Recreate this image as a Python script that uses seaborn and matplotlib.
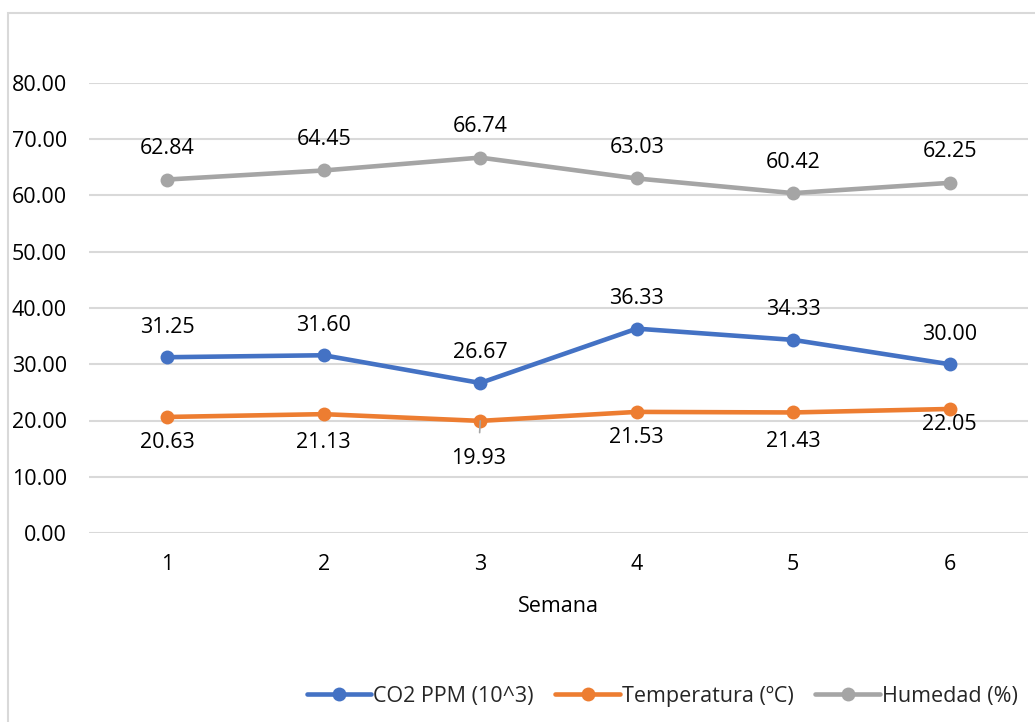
import matplotlib
matplotlib.use("Agg")
import matplotlib.pyplot as plt
import seaborn as sns
import pandas as pd
from matplotlib.lines import Line2D
from matplotlib.patches import Rectangle

# Weekly measurements
semanas = [1, 2, 3, 4, 5, 6]
co2 = [31.25, 31.60, 26.67, 36.33, 34.33, 30.00]
temperatura = [20.63, 21.13, 19.93, 21.53, 21.43, 22.05]
humedad = [62.84, 64.45, 66.74, 63.03, 60.42, 62.25]
series = ["CO2 PPM (10^3)", "Temperatura (ºC)", "Humedad (%)"]
colores = ["#4472C4", "#ED7D31", "#A5A5A5"]
y_ticks = [0, 10, 20, 30, 40, 50, 60, 70, 80]

sns.set_theme(style="white")
plt.rcParams['font.family'] = ['Open Sans', 'DejaVu Sans']
FS = 15.5

valores = {series[0]: co2, series[1]: temperatura, series[2]: humedad}
df = pd.DataFrame(
    [{"Semana": s, "Valor": v, "Serie": name}
     for name in series for s, v in zip(semanas, valores[name])]
)

W, H = 1035, 722
fig = plt.figure(figsize=(W / 100, H / 100), dpi=100)
ax = fig.add_axes([89 / W, 189 / H, 939 / W, 450 / H])

# Chart-area border
fig.patches.append(Rectangle((8 / W, -0.01), 1.1, (H - 13) / H + 0.01,
                             transform=fig.transFigure, fill=False,
                             edgecolor="#D9D9D9", linewidth=1.5))

sns.lineplot(data=df, x="Semana", y="Valor", hue="Serie", hue_order=series,
             palette=colores, marker="o", markersize=10, markeredgewidth=0,
             linewidth=3.3, legend=False, ax=ax, zorder=3)

ax.set_xlim(0.5, 6.5)
ax.set_ylim(0, 80)
ax.set_yticks(y_ticks)
ax.set_yticklabels([f"{t:.2f}" for t in y_ticks], fontsize=FS, color="#000000")
ax.set_xticks(semanas)
ax.set_xticklabels([str(s) for s in semanas], fontsize=FS, color="#000000")
ax.tick_params(axis="y", length=0, pad=16)
ax.tick_params(axis="x", length=0, pad=15)
ax.yaxis.grid(True, color="#D9D9D9", linewidth=1.5)
ax.set_axisbelow(True)
for sp in ax.spines.values():
    sp.set_visible(False)
ax.set_xlabel("Semana", fontsize=FS, color="#000000", labelpad=15)
ax.set_ylabel("")

px = 0.72  # pixels -> points

# Value labels
for s, v in zip(semanas, humedad):
    ax.annotate(f"{v:.2f}", (s, v), xytext=(0, 31 * px), textcoords="offset points",
                ha="center", va="center", fontsize=FS, color="#000000")
for s, v in zip(semanas, co2):
    ax.annotate(f"{v:.2f}", (s, v), xytext=(0, 30 * px), textcoords="offset points",
                ha="center", va="center", fontsize=FS, color="#000000")
temp_off = [26, 28, 38, 26, 29, 16]
for i, (s, v) in enumerate(zip(semanas, temperatura)):
    if i == 2:
        ax.annotate(f"{v:.2f}", (s, v), xytext=(-2 * px, -temp_off[i] * px),
                    textcoords="offset points", ha="center", va="center",
                    fontsize=FS, color="#000000",
                    arrowprops=dict(arrowstyle="-", color="#A5A5A5", lw=1.2,
                                    shrinkA=9, shrinkB=0), zorder=4)
    else:
        ax.annotate(f"{v:.2f}", (s, v), xytext=(0, -temp_off[i] * px),
                    textcoords="offset points", ha="center", va="center",
                    fontsize=FS, color="#000000")

handles = [Line2D([], [], color=c, linewidth=3.3, marker="o", markersize=10,
                  markeredgewidth=0) for c in colores]
fig.legend(handles, series, loc="center right", bbox_to_anchor=(1018 / W, 1 - 696 / H),
           ncol=3, frameon=False, fontsize=FS, handlelength=3.0, handletextpad=0.1,
           columnspacing=1.0, borderpad=0, borderaxespad=0)

fig.savefig("out.png", dpi=100)
